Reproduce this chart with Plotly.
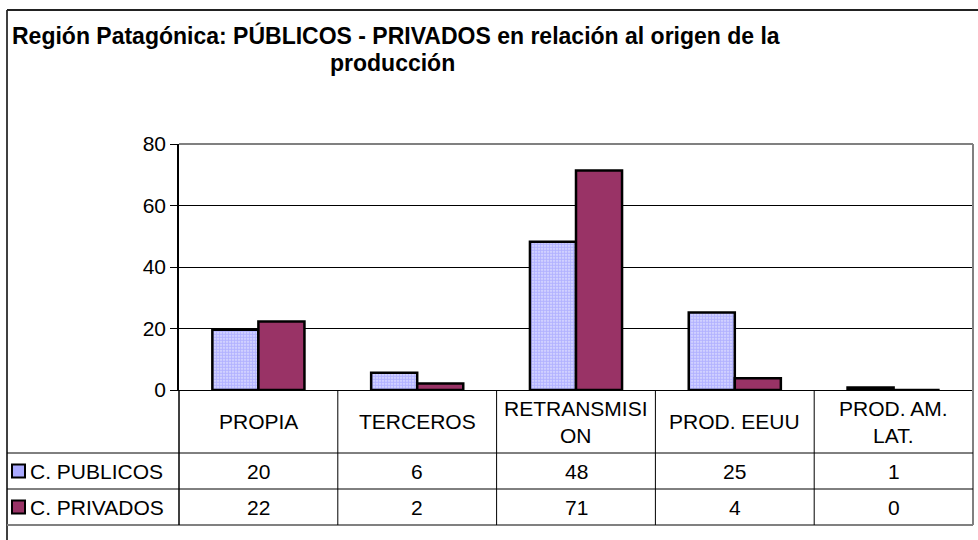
import plotly.graph_objects as go

# ---- data ----
categories = ["PROPIA", "TERCEROS", "RETRANSMISION", "PROD. EEUU", "PROD. AM. LAT."]
category_labels = ["PROPIA", "TERCEROS", "RETRANSMISI<br>ON", "PROD. EEUU", "PROD. AM.<br>LAT."]
series_names = ["C. PUBLICOS", "C. PRIVADOS"]
publicos = [19.6, 5.6, 48.2, 25.2, 0.8]
privados = [22.3, 2.1, 71.4, 3.8, 0.0]
y_ticks = [0, 20, 40, 60, 80]
title_line1 = "Región Patagónica: PÚBLICOS - PRIVADOS en relación al origen de la"
title_line2 = "producción"

# ---- layout geometry (pixels) ----
W, H = 978, 540
L, R, T, B = 179, 973, 144, 390
FONT = "Liberation Sans, Arial, sans-serif"
FS = 21
TFS = 23


def px(x):
    return (x - L) / (R - L)


def py(y):
    return (B - y) / (B - T)


PUB_FG = "#8080ff"
PUB_BG = "#e4e4ff"
PRIV = "#993366"

fig = go.Figure()
fig.add_trace(go.Bar(
    x=categories, y=publicos, name=series_names[0],
    marker=dict(color=PUB_BG, line=dict(color="black", width=2.5),
                pattern=dict(shape=".", fgcolor=PUB_FG, bgcolor=PUB_BG, size=3, solidity=0.7)),
))
fig.add_trace(go.Bar(
    x=categories, y=privados, name=series_names[1],
    marker=dict(color=PRIV, line=dict(color="black", width=2.5)),
))

shapes = []


def line(x0, y0, x1, y1, color="black", width=1):
    shapes.append(dict(type="line", xref="paper", yref="paper",
                       x0=px(x0), y0=py(y0), x1=px(x1), y1=py(y1),
                       line=dict(color=color, width=width)))


# outer chart frame
line(7, 10, 7, 560, width=1.5)
line(7, 10, 1000, 10, color="#222", width=2)
# plot area border (top/right)
line(L, T, R, T, color="#808080", width=2)
line(R, T, R, 525, color="#808080", width=2)
# table horizontal lines
row_lines = [453, 489]
for yy in row_lines:
    line(7, yy, R, yy)
line(7, 525, R, 525, color="#808080", width=2)
# table vertical lines (category boundaries)
n = len(categories)
for i in range(0, n):
    xx = L + i * (R - L) / n
    line(xx, B, xx, 525, width=1.5 if i == 0 else 1)

# legend keys in table
row_centers = [471, 507]
key_fills = ["#aaaaff", PRIV]
for rc, kf in zip(row_centers, key_fills):
    shapes.append(dict(type="rect", xref="paper", yref="paper",
                       x0=px(12), x1=px(25), y0=py(rc - 6.5), y1=py(rc + 6.5),
                       fillcolor=kf, line=dict(color="black", width=2)))

annotations = []
# title
annotations.append(dict(text="<b>" + title_line1 + "</b>", xref="paper", yref="paper",
                        x=px(10), y=py(35), xanchor="left", yanchor="middle", showarrow=False,
                        font=dict(family=FONT, size=TFS, color="black")))
annotations.append(dict(text="<b>" + title_line2 + "</b>", xref="paper", yref="paper",
                        x=px(392), y=py(63), xanchor="center", yanchor="middle", showarrow=False,
                        font=dict(family=FONT, size=TFS, color="black")))
# category labels row
for c, lab in zip(categories, category_labels):
    annotations.append(dict(text=lab, xref="x", yref="paper", x=c, y=py(421.5),
                            xanchor="center", yanchor="middle", showarrow=False,
                            font=dict(family=FONT, size=FS, color="black")))
# series rows
for rc, name, vals in zip(row_centers, series_names, [publicos, privados]):
    annotations.append(dict(text=name, xref="paper", yref="paper", x=px(28), y=py(rc),
                            xanchor="left", yanchor="middle", showarrow=False,
                            font=dict(family=FONT, size=FS, color="black")))
    for c, v in zip(categories, vals):
        annotations.append(dict(text=f"{v:.0f}", xref="x", yref="paper", x=c, y=py(rc),
                                xanchor="center", yanchor="middle", showarrow=False,
                                font=dict(family=FONT, size=FS, color="black")))

fig.update_layout(
    width=W, height=H,
    margin=dict(l=L, r=W - R, t=T, b=H - B, pad=0),
    paper_bgcolor="white", plot_bgcolor="white",
    barmode="group", bargap=0.42, bargroupgap=0,
    showlegend=False,
    shapes=shapes, annotations=annotations,
    font=dict(family=FONT, size=FS, color="black"),
)
fig.update_xaxes(range=[-0.5, n - 0.5], showticklabels=False, ticks="",
                 showline=True, linecolor="black", linewidth=1, showgrid=False, zeroline=False,
                 fixedrange=True)
fig.update_yaxes(range=[0, 80], tickvals=y_ticks, ticks="outside", ticklen=7, tickcolor="black",
                 showline=True, linecolor="black", linewidth=1.5,
                 showgrid=True, gridcolor="black", gridwidth=1, zeroline=False,
                 tickfont=dict(family=FONT, size=FS, color="black"), fixedrange=True)

fig.write_html("out.html", config={"displayModeBar": False},
               post_script="document.body.style.margin='0';document.body.style.overflow='hidden';")
